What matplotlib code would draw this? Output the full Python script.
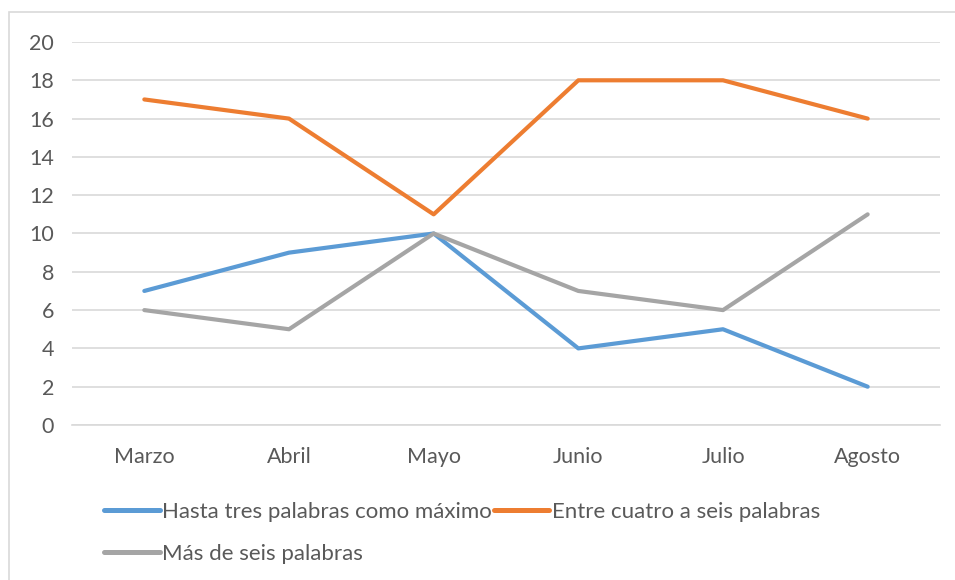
import matplotlib.pyplot as plt
from matplotlib.patches import Rectangle

plt.rcParams["font.family"] = ["Lato", "DejaVu Sans"]

months = ["Marzo", "Abril", "Mayo", "Junio", "Julio", "Agosto"]
hasta_tres = [7, 9, 10, 4, 5, 2]
cuatro_seis = [17, 16, 11, 18, 18, 16]
mas_seis = [6, 5, 10, 7, 6, 11]
yticks = list(range(0, 21, 2))

fig = plt.figure(figsize=(9.55, 5.8), dpi=100)
ax = fig.add_axes([72 / 955, 1 - 425 / 580, 868 / 955, 383 / 580])

# chart border (right and bottom edges fall outside the picture)
fig.patches.append(Rectangle((9 / 955, -10 / 580), 960 / 955, 578 / 580, transform=fig.transFigure,
                             fill=False, edgecolor="#D9D9D9", linewidth=1.2))

x = range(len(months))
lw = 3.0
l1, = ax.plot(x, hasta_tres, color="#5B9BD5", lw=lw, solid_capstyle="round", solid_joinstyle="round",
              label="Hasta tres palabras como máximo")
l2, = ax.plot(x, cuatro_seis, color="#ED7D31", lw=lw, solid_capstyle="round", solid_joinstyle="round",
              label="Entre cuatro a seis palabras")
l3, = ax.plot(x, mas_seis, color="#A5A5A5", lw=lw, solid_capstyle="round", solid_joinstyle="round",
              label="Más de seis palabras")

ax.set_xlim(-0.5, len(months) - 0.5)
ax.set_ylim(0, 20)
ax.set_yticks(yticks)
ax.set_xticks(list(x))
ax.set_xticklabels(months)
ax.yaxis.grid(True, color="#D9D9D9", linewidth=1.2)
ax.set_axisbelow(True)
for s in ["top", "right", "left"]:
    ax.spines[s].set_visible(False)
ax.spines["bottom"].set_color("#D9D9D9")
ax.spines["bottom"].set_linewidth(1.2)
ax.tick_params(axis="y", length=0, pad=13, labelsize=15.5, labelcolor="#595959")
ax.tick_params(axis="x", length=0, pad=16, labelsize=15.5, labelcolor="#595959")

leg = fig.legend([l1, l3, l2], [l1.get_label(), l3.get_label(), l2.get_label()],
                 ncol=2, loc="upper left", bbox_to_anchor=(84 / 955, 1 - 482 / 580),
                 frameon=False, fontsize=16, handlelength=2.5, handletextpad=0.1,
                 columnspacing=0.1, labelspacing=1.0, labelcolor="#595959")
for h in leg.legend_handles:
    h.set_linewidth(3.6)

fig.savefig("out.png", dpi=100)
